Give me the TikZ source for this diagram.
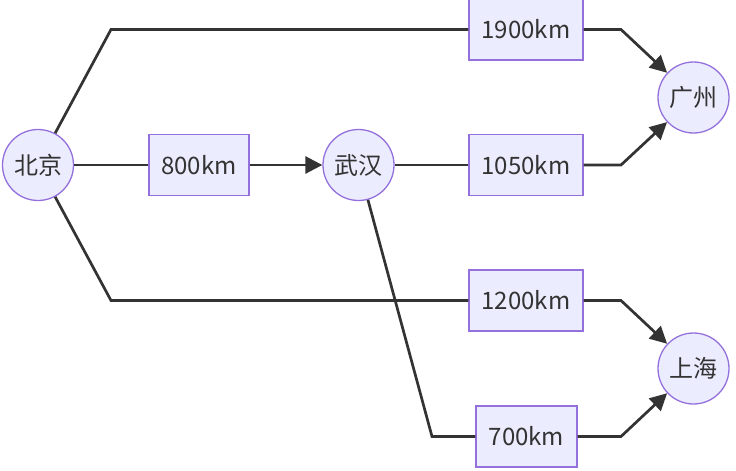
\documentclass[tikz,border=0pt]{standalone}
\usepackage{fontspec}
\setmainfont{Noto Sans CJK SC}
\usetikzlibrary{arrows.meta}
\definecolor{mfill}{HTML}{ECECFF}
\definecolor{mstroke}{HTML}{9370DB}
\definecolor{mline}{HTML}{333333}
\begin{document}
\begin{tikzpicture}[x=1pt,y=-1pt,
  city/.style={circle,draw=mstroke,fill=mfill,line width=1.3pt,minimum size=71pt,inner sep=0pt,text=mline,font=\fontsize{24}{28}\selectfont},
  dist/.style={rectangle,draw=mstroke,fill=mfill,line width=1.3pt,minimum height=61pt,inner sep=0pt,text=mline,font=\fontsize{24}{28}\selectfont},
  link/.style={draw=mline,line width=2.7pt},
  arr/.style={link,-{Triangle[length=17pt,width=17pt]}}]
\useasboundingbox (0,0) rectangle (736,471);
% cities
\node[city] (bj) at (38,165) {北京};
\node[city] (wh) at (358.5,165) {武汉};
\node[city] (gz) at (693.5,97.5) {广州};
\node[city] (sh) at (693.5,368.5) {上海};
% distance boxes
\node[dist,minimum width=114pt] (b1900) at (526,29.5) {1900km};
\node[dist,minimum width=100pt] (b800) at (199,165) {800km};
\node[dist,minimum width=114pt] (b1050) at (526,165) {1050km};
\node[dist,minimum width=114pt] (b1200) at (526,300.5) {1200km};
\node[dist,minimum width=101pt] (b700) at (526.5,436.5) {700km};
% bend points
\coordinate (c1) at (111,29.5);
\coordinate (c2) at (621,29.5);
\coordinate (c3) at (621,165);
\coordinate (c4) at (111,300.5);
\coordinate (c5) at (621,300.5);
\coordinate (c6) at (432,436.5);
\coordinate (c7) at (621,436.5);
% connectors
\draw[link] (bj) -- (c1) -- (b1900.west);
\draw[arr] (b1900.east) -- (c2) -- (gz);
\draw[link] (bj) -- (b800);
\draw[arr] (b800) -- (wh);
\draw[link] (wh) -- (b1050);
\draw[arr] (b1050.east) -- (c3) -- (gz);
\draw[link] (bj) -- (c4) -- (b1200.west);
\draw[arr] (b1200.east) -- (c5) -- (sh);
\draw[link] (wh) -- (c6) -- (b700.west);
\draw[arr] (b700.east) -- (c7) -- (sh);
\end{tikzpicture}
\end{document}
